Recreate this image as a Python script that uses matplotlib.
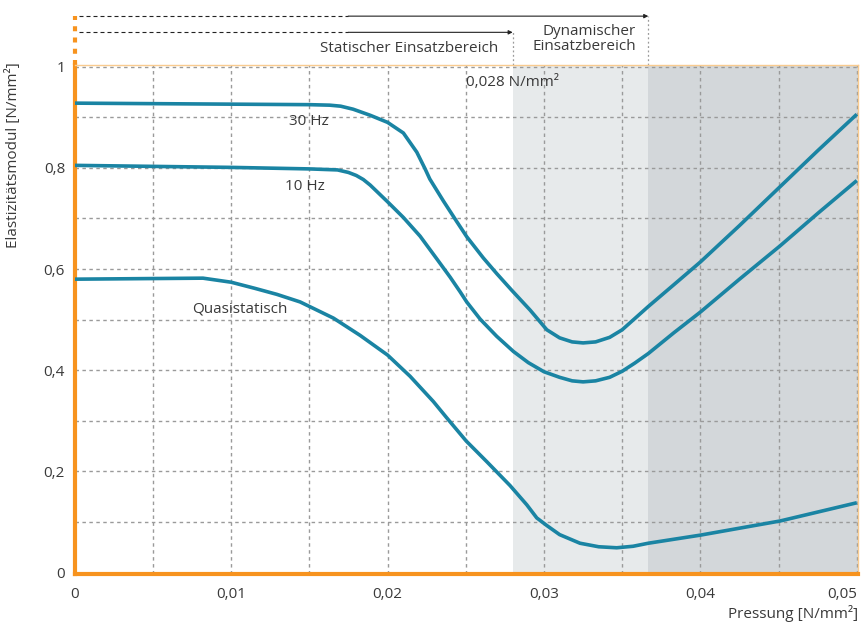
import numpy as np
import matplotlib.pyplot as plt

### Data
x_30hz = [0, 0.005, 0.010, 0.015, 0.0163, 0.0170, 0.0178, 0.01889, 0.0200, 0.02101, 0.02187,
          0.0224, 0.0227, 0.02356, 0.02442, 0.02506, 0.02612, 0.02698, 0.02794, 0.02911, 0.03018,
          0.0310, 0.0318, 0.0325, 0.0333, 0.0342, 0.0350, 0.0358, 0.03667, 0.0383, 0.0400,
          0.0425, 0.0451, 0.0475, 0.0500]
y_30hz = [0.928, 0.927, 0.926, 0.925, 0.924, 0.922, 0.916, 0.904, 0.890, 0.869, 0.831,
          0.798, 0.778, 0.735, 0.694, 0.664, 0.622, 0.591, 0.558, 0.519, 0.480,
          0.464, 0.456, 0.454, 0.456, 0.465, 0.480, 0.502, 0.526, 0.569, 0.614,
          0.686, 0.763, 0.834, 0.906]

x_10hz = [0, 0.005, 0.010, 0.015, 0.0168, 0.0175, 0.0180, 0.01845, 0.01889, 0.0200, 0.02101,
          0.02208, 0.02315, 0.0240, 0.02464, 0.02506, 0.02592, 0.02698, 0.02805, 0.0290, 0.0300,
          0.0310, 0.0318, 0.0325, 0.0333, 0.0342, 0.0350, 0.0358, 0.03667, 0.0383, 0.0400,
          0.0425, 0.0451, 0.0475, 0.0500]
y_10hz = [0.805, 0.803, 0.801, 0.798, 0.796, 0.791, 0.785, 0.777, 0.766, 0.733, 0.702,
          0.665, 0.620, 0.584, 0.555, 0.535, 0.501, 0.467, 0.437, 0.415, 0.397,
          0.386, 0.379, 0.377, 0.379, 0.386, 0.398, 0.414, 0.433, 0.474, 0.515,
          0.580, 0.646, 0.710, 0.775]

x_quasi = [0, 0.004, 0.0082, 0.0100, 0.0115, 0.01292, 0.01441, 0.01654, 0.01824, 0.0200, 0.02144,
           0.02293, 0.02378, 0.02503, 0.02635, 0.02783, 0.0289, 0.02954, 0.03018, 0.0310, 0.0323,
           0.0335, 0.03465, 0.0357, 0.03667, 0.0400, 0.0451, 0.0500]
y_quasi = [0.580, 0.581, 0.582, 0.574, 0.562, 0.550, 0.535, 0.503, 0.469, 0.430, 0.388,
           0.338, 0.306, 0.260, 0.219, 0.172, 0.134, 0.108, 0.093, 0.075, 0.058,
           0.051, 0.049, 0.052, 0.058, 0.074, 0.102, 0.138]

x_static_end = 0.028
x_dynamic_end = 0.03667
x_max = 0.0501

x_ticks = [0, 0.01, 0.02, 0.03, 0.04, 0.05]
x_tick_labels = ['0', '0,01', '0,02', '0,03', '0,04', '0,05']
y_ticks = [0, 0.2, 0.4, 0.6, 0.8, 1.0]
y_tick_labels = ['0', '0,2', '0,4', '0,6', '0,8', '1']

### Style
plt.rcParams['font.family'] = ['Open Sans', 'DejaVu Sans']
text_col = '#3a3a3a'
curve_col = '#1a84a3'
orange = '#f7931e'
light_orange = '#f9cb8f'
fs = 11

fig = plt.figure(figsize=(8.62, 6.24), dpi=100)
ax = fig.add_axes([0.0867, 0.080, 0.9091, 0.8155])
ax.set_xlim(0, x_max)
ax.set_ylim(-0.003, 1.003)

# shaded ranges
ax.axvspan(x_static_end, x_dynamic_end, color='#e7eaeb', zorder=0, lw=0)
ax.axvspan(x_dynamic_end, x_max, color='#d3d7da', zorder=0, lw=0)

# grid
ax.set_xticks(x_ticks)
ax.set_xticklabels(x_tick_labels)
ax.set_yticks(y_ticks)
ax.set_yticklabels(y_tick_labels)
ax.set_xticks(np.arange(0.005, 0.05, 0.01), minor=True)
ax.set_yticks(np.arange(0.1, 1.0, 0.2), minor=True)
ax.grid(which='both', color='#9a9a9a', linestyle=(0, (2.5, 2.5)), linewidth=1.0, zorder=1)
ax.set_axisbelow(True)
ax.tick_params(which='both', length=0, labelsize=fs, colors=text_col)
ax.tick_params(axis='x', pad=9)
ax.tick_params(axis='y', pad=7)
ax.get_xticklabels()[-1].set_horizontalalignment('right')

# curves
for xs, ys in [(x_30hz, y_30hz), (x_10hz, y_10hz), (x_quasi, y_quasi)]:
    ax.plot(xs, ys, color=curve_col, lw=2.6, solid_capstyle='butt', solid_joinstyle='round', zorder=3)

ax.text(0.01495, 0.892, '30 Hz', ha='center', va='center', fontsize=fs, color=text_col)
ax.text(0.01473, 0.764, '10 Hz', ha='center', va='center', fontsize=fs, color=text_col)
ax.text(0.01057, 0.521, 'Quasistatisch', ha='center', va='center', fontsize=fs, color=text_col)
ax.text(0.02502, 0.968, '0,028 N/mm²', ha='left', va='center', fontsize=fs, color=text_col)

# spines
for side in ['left', 'bottom']:
    ax.spines[side].set_color(orange)
    ax.spines[side].set_linewidth(3)
for side in ['top', 'right']:
    ax.spines[side].set_color(light_orange)
    ax.spines[side].set_linewidth(1)

# range annotations above the plot
y1, y2 = 1.100, 1.068
x_dash = 0.01748
ax.plot([0, 0], [1.003, y1], color=orange, lw=3, dashes=(1.2, 1.5), clip_on=False)
for yy, xe in [(y1, x_dynamic_end), (y2, x_static_end)]:
    ax.plot([0.0003, x_dash], [yy, yy], color='#222222', lw=0.8, dashes=(3.6, 2.7), clip_on=False)
    ax.annotate('', xy=(xe, yy), xytext=(x_dash, yy), annotation_clip=False,
                arrowprops=dict(arrowstyle='-|>', color='#222222', lw=0.8, mutation_scale=6,
                                shrinkA=0, shrinkB=0))
    ax.plot([xe, xe], [1.003, yy], color='#9a9a9a', lw=0.9, dashes=(1.5, 2), clip_on=False)

ax.text(0.02706, 1.037, 'Statischer Einsatzbereich', ha='right', va='center', fontsize=fs, color=text_col)
ax.text(0.03589, 1.055, 'Dynamischer\nEinsatzbereich', ha='right', va='center', fontsize=fs,
        color=text_col, linespacing=1.0, multialignment='right')

# axis labels
fig.text(13 / 862, 1 - 62 / 624, 'Elastizitätsmodul [N/mm²]', rotation=90, ha='center', va='top',
         fontsize=fs, color=text_col)
fig.text(858 / 862, 1 - 613 / 624, 'Pressung [N/mm²]', ha='right', va='center', fontsize=fs,
         color=text_col)

plt.savefig('out.png', dpi=100)
